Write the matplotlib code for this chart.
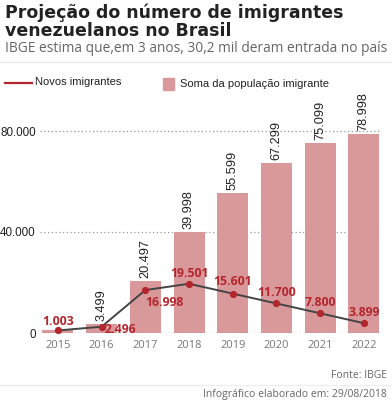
import matplotlib
matplotlib.use("Agg")
import matplotlib.pyplot as plt
from matplotlib.lines import Line2D
from matplotlib.patches import Rectangle

years = ["2015", "2016", "2017", "2018", "2019", "2020", "2021", "2022"]
total_pop = [1003, 3499, 20497, 39998, 55599, 67299, 75099, 78998]
new_imm = [1003, 2496, 16998, 19501, 15601, 11700, 7800, 3899]
total_labels = ["", "3.499", "20.497", "39.998", "55.599", "67.299", "75.099", "78.998"]
new_labels = ["1.003", "2.496", "16.998", "19.501", "15.601", "11.700", "7.800", "3.899"]
y_ticks = [0, 40000, 80000]
y_tick_labels = ["0", "40.000", "80.000"]

# label offsets for the red values (pixels)
new_offsets = [(0, 9), (3, -3), (19, -12), (0, 10), (0, 12), (0, 11), (0, 11), (0, 11)]
new_ha = ["center", "left", "center", "center", "center", "center", "center", "center"]

W, H = 392, 403
BAR = "#d9999b"
RED = "#b3262e"

fig = plt.figure(figsize=(W / 100, H / 100), dpi=100)


def px(x, y):
    return x / W, 1 - y / H


# header
fig.text(*px(5, 13), "Projeção do número de imigrantes", fontsize=12.5,
         fontweight="bold", color="#222222", va="center", family="DejaVu Sans")
fig.text(*px(5, 31), "venezuelanos no Brasil", fontsize=12.5,
         fontweight="bold", color="#222222", va="center", family="DejaVu Sans")
fig.text(*px(5, 48), "IBGE estima que,em 3 anos, 30,2 mil deram entrada no país",
         fontsize=9.9, color="#666666", va="center", family="Open Sans")
fig.add_artist(Line2D([0, 1], [1 - 62 / H] * 2, color="#eeeeee", lw=1))

# legend
fig.add_artist(Line2D([5 / W, 32 / W], [1 - 83 / H] * 2, color=RED, lw=1.6))
fig.text(*px(35, 82), "Novos imigrantes", fontsize=8, color="#222222",
         va="center", family="Liberation Sans")
fig.add_artist(Rectangle(px(163, 90), 11 / W, 12 / H, color=BAR))
fig.text(*px(180, 84), "Soma da população imigrante", fontsize=8, color="#222222",
         va="center", family="Liberation Sans")

# chart
left, right, top, base = 40, 380, 100, 333
ax = fig.add_axes([left / W, 1 - base / H, (right - left) / W, (base - top) / H])
x = list(range(len(years)))
ax.bar(x, total_pop, width=0.71, color=BAR, zorder=2)
ax.set_xlim(-0.41, 7.37)
ax.set_ylim(0, 80000 * (base - top) / (base - 131))

for xi, v, lab in zip(x, total_pop, total_labels):
    if lab:
        ax.annotate(lab, (xi, v), xytext=(0, 3), textcoords="offset pixels",
                    rotation=90, ha="center", va="bottom", fontsize=9.2,
                    color="#222222", family="Liberation Sans",
                    annotation_clip=False)

ax.plot(x, new_imm, color="#444444", lw=1.4, marker="o", markersize=4.2,
        markerfacecolor=RED, markeredgecolor=RED, zorder=4)
for xi, v, lab, off, ha in zip(x, new_imm, new_labels, new_offsets, new_ha):
    ax.annotate(lab, (xi, v), xytext=off, textcoords="offset pixels",
                ha=ha, va="center", fontsize=8.8, fontweight="bold",
                color=RED, family="Open Sans", zorder=5, annotation_clip=False)

for t in y_ticks:
    ax.axhline(t, color="#999999" if t else "#555555", lw=0.9,
               linestyle=(0, (1, 2)), zorder=3 if t == 0 else 1)

ax.set_yticks(y_ticks)
ax.set_yticklabels(y_tick_labels, fontsize=8.4, color="#222222",
                   family="Liberation Sans")
ax.set_xticks(x)
ax.set_xticklabels(years, fontsize=8, color="#777777", family="Open Sans")
ax.tick_params(length=0, axis="both")
ax.tick_params(axis="y", pad=3)
ax.tick_params(axis="x", pad=5)
for s in ax.spines.values():
    s.set_visible(False)

# footer
fig.text(*px(387, 376), "Fonte: IBGE", fontsize=7.5, color="#666666",
         ha="right", va="center", family="Open Sans")
fig.add_artist(Line2D([0, 1], [1 - 385 / H] * 2, color="#eeeeee", lw=1))
fig.text(*px(387, 395), "Infográfico elaborado em: 29/08/2018", fontsize=7.5,
         color="#666666", ha="right", va="center", family="Open Sans")

fig.savefig("out.png", dpi=100)
